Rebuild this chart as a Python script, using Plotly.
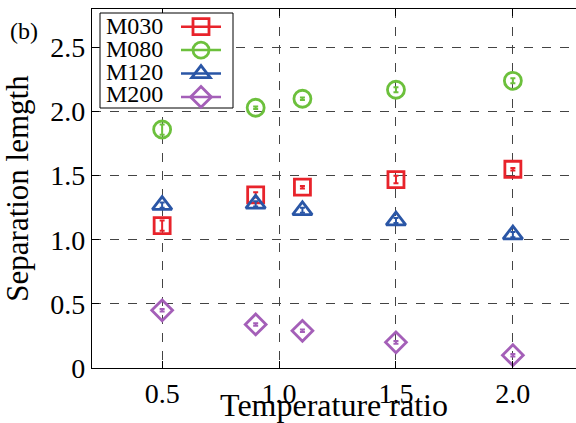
import plotly.graph_objects as go

# Temperature ratios at which each model was evaluated
temp_ratio = [0.5, 0.9, 1.1, 1.5, 2.0]

# Separation length per model (mean values)
m030 = [1.11, 1.35, 1.41, 1.47, 1.55]
m080 = [1.86, 2.03, 2.10, 2.17, 2.24]
m120 = [1.27, 1.28, 1.23, 1.15, 1.04]
m200 = [0.45, 0.34, 0.29, 0.20, 0.10]

# Error bar half-widths
m030_err = [0.04, 0.02, 0.01, 0.03, 0.01]
m080_err = [0.04, 0.01, 0.01, 0.02, 0.02]
m120_err = [0.02, 0.02, 0.02, 0.02, 0.02]
m200_err = [0.01, 0.01, 0.01, 0.01, 0.01]

series_names = ["M030", "M080", "M120", "M200"]

y_tickvals = [0, 0.5, 1.0, 1.5, 2.0, 2.5]
y_ticktext = ["0", "0.5", "1.0", "1.5", "2.0", "2.5"]
x_tickvals = [0.5, 1.0, 1.5, 2.0]
x_ticktext = ["0.5", "1.0", "1.5", "2.0"]

styles = [
    dict(color="#e8232b", symbol="square-open", size=16),
    dict(color="#6cc03c", symbol="circle-open", size=17),
    dict(color="#2a56a6", symbol="triangle-up-open", size=17),
    dict(color="#a45fb8", symbol="diamond-open", size=16),
]

SERIF = "Liberation Serif, Times New Roman, serif"

# Canvas / plot-area geometry (pixels)
W, H = 576, 423
M_L, M_R, M_T, M_B = 92, 0, 9, 55
PW, PH = W - M_L - M_R, H - M_T - M_B


def px_x(px):
    return (px - M_L) / PW


def px_y(py):
    return 1 - (py - M_T) / PH


def with_gaps(values):
    """Interleave None so a lines+markers trace draws no connecting lines
    (the legend still shows a line segment through the symbol)."""
    out = []
    for v in values:
        out.extend([v, None])
    return out[:-1]


fig = go.Figure()
for name, vals, errs, st in zip(series_names, [m030, m080, m120, m200],
                                [m030_err, m080_err, m120_err, m200_err], styles):
    fig.add_trace(go.Scatter(
        x=with_gaps(temp_ratio), y=with_gaps(vals), name=name,
        mode="lines+markers", connectgaps=False,
        line=dict(color=st["color"], width=2.5),
        marker=dict(symbol=st["symbol"], size=st["size"], color=st["color"],
                    line=dict(width=2.8, color=st["color"])),
        error_y=dict(type="data", array=with_gaps(errs), color=st["color"],
                     thickness=2, width=2.5),
    ))

# Legend box: names on the left, symbol keys on the right
legend_rows_px = [25, 48, 71, 94]
annotations = [dict(
    text=n, xref="paper", yref="paper", x=px_x(104), y=px_y(py),
    xanchor="left", yanchor="middle", showarrow=False, height=23,
    font=dict(family=SERIF, size=24, color="black"),
) for n, py in zip(series_names, legend_rows_px)]

annotations.append(dict(
    text="(b)", xref="paper", yref="paper", x=px_x(8), y=px_y(16),
    xanchor="left", yanchor="top", showarrow=False,
    font=dict(family=SERIF, size=24, color="black"),
))

shapes = [dict(
    type="rect", xref="paper", yref="paper",
    x0=px_x(100), x1=px_x(233), y0=px_y(108), y1=px_y(13),
    line=dict(color="black", width=1), fillcolor="white", layer="above",
)]

fig.update_layout(
    width=W, height=H,
    margin=dict(l=M_L, r=M_R, t=M_T, b=M_B, autoexpand=False),
    paper_bgcolor="white", plot_bgcolor="white",
    font=dict(family=SERIF, color="black"),
    showlegend=True,
    legend=dict(
        x=px_x(176), y=px_y(10), xanchor="left", yanchor="top",
        bgcolor="rgba(0,0,0,0)", borderwidth=0,
        font=dict(family=SERIF, size=15.7, color="rgba(0,0,0,0)"),
        itemwidth=40, tracegroupgap=0,
    ),
    xaxis=dict(
        range=[0.2, 2.27], tickvals=x_tickvals, ticktext=x_ticktext,
        tickfont=dict(family=SERIF, size=28),
        title=dict(text="Temperature ratio", font=dict(family=SERIF, size=32), standoff=0),
        showline=True, linecolor="black", linewidth=1.3, mirror="ticks",
        ticks="inside", ticklen=7, tickcolor="black",
        showgrid=True, gridcolor="#444444", griddash="dash", gridwidth=1,
        zeroline=False,
    ),
    yaxis=dict(
        range=[0, 2.8], tickvals=y_tickvals, ticktext=y_ticktext,
        tickfont=dict(family=SERIF, size=28),
        title=dict(text="Separation lemgth", font=dict(family=SERIF, size=31), standoff=14),
        showline=True, linecolor="black", linewidth=1.3,
        ticks="inside", ticklen=7, tickcolor="black",
        showgrid=True, gridcolor="#444444", griddash="dash", gridwidth=1,
        zeroline=False,
    ),
    shapes=shapes,
    annotations=annotations,
)

fig.write_html("out.html")
